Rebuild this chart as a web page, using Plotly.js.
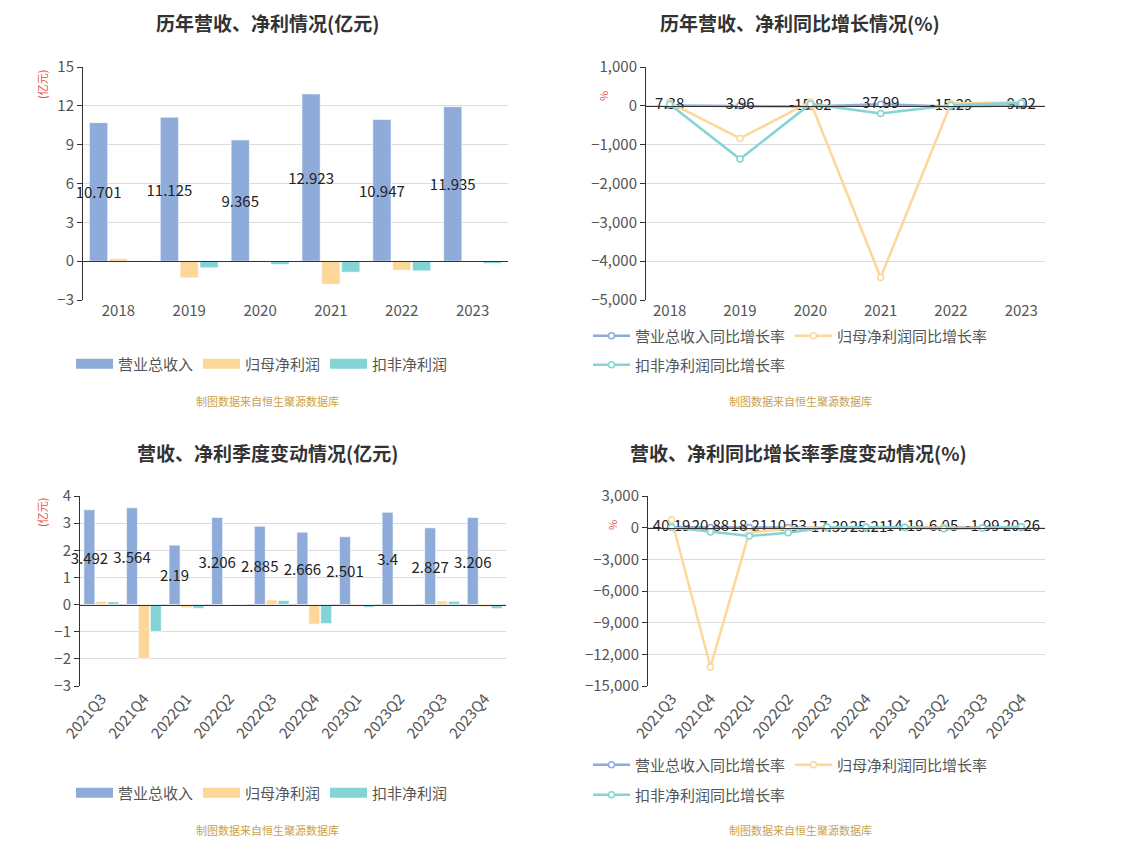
<!DOCTYPE html>
<html><head><meta charset="utf-8">
<script src="https://cdn.plot.ly/plotly-3.0.1.min.js"></script>
<style>html,body{margin:0;padding:0;background:#fff}#chart{width:1121px;height:861px}</style>
</head><body><div id="chart"></div>
<script>
// ---- data ----
const years = ['2018','2019','2020','2021','2022','2023'];
const yearRevenue = [10.701, 11.125, 9.365, 12.923, 10.947, 11.935];
const yearNetProfit = [0.20, -1.29, 0.04, -1.78, -0.69, -0.03];
const yearDeductedProfit = [0.03, -0.51, -0.26, -0.85, -0.75, -0.18];
const yearRevenueGrowth = [7.38, 3.96, -15.82, 37.99, -15.29, 9.02];
const yearNetProfitGrowth = [85, -840, 105, -4420, 61, 95];
const yearDeductedGrowth = [40, -1370, 49, -200, 12, 76];

const quarters = ['2021Q3','2021Q4','2022Q1','2022Q2','2022Q3','2022Q4','2023Q1','2023Q2','2023Q3','2023Q4'];
const qRevenue = [3.492, 3.564, 2.19, 3.206, 2.885, 2.666, 2.501, 3.4, 2.827, 3.206];
const qNetProfit = [0.12, -1.99, -0.12, 0.01, 0.17, -0.72, -0.07, 0.01, 0.13, -0.08];
const qDeductedProfit = [0.10, -0.99, -0.14, -0.01, 0.15, -0.70, -0.10, -0.02, 0.12, -0.15];
const qRevenueGrowth = [40.19, 20.88, 18.21, 10.53, -17.39, -25.21, 14.19, 6.05, -1.99, 20.26];
const qNetProfitGrowth = [750, -13200, -450, -100, 40, 64, 42, 0, -24, 89];
const qDeductedGrowth = [30, -420, -800, -480, 50, 29, 29, -100, -20, 79];

const barNames = ['营业总收入','归母净利润','扣非净利润'];
const lineNames = ['营业总收入同比增长率','归母净利润同比增长率','扣非净利润同比增长率'];
const titles = ['历年营收、净利情况(亿元)','历年营收、净利同比增长情况(%)','营收、净利季度变动情况(亿元)','营收、净利同比增长率季度变动情况(%)'];
const sourceText = '制图数据来自恒生聚源数据库';

// ---- style ----
const W = 1121, H = 861;
const FONT = '"Noto Sans CJK SC", "Open Sans", sans-serif';
const COLORS = ['#8EABDA', '#FDD798', '#84D4D6'];
const px = v => v / W, py = v => 1 - v / H;

const dom = {
  tl: {x: [px(83), px(508)], y: [py(300), py(67)], r: [-3, 15], dt: 3},
  tr: {x: [px(646), px(1045)], y: [py(300), py(67)], r: [-5000, 1000], dt: 1000},
  bl: {x: [px(80), px(506)], y: [py(686), py(496)], r: [-3, 4], dt: 1},
  br: {x: [px(648), px(1045)], y: [py(686), py(496)], r: [-15000, 3000], dt: 3000}
};
const zeroPos = d => d.y[0] + (d.y[1] - d.y[0]) * (0 - d.r[0]) / (d.r[1] - d.r[0]);
const idx = arr => arr.map((_, i) => i);

const traces = [];
function addBars(cats, series, xa, ya, legendId, overlayX) {
  series.forEach((vals, k) => {
    const t = {
      type: 'bar', x: cats, y: vals, xaxis: xa, yaxis: ya,
      marker: {color: COLORS[k], line: {color: 'rgba(255,255,255,0.6)', width: 1}},
      showlegend: false, hoverinfo: 'x+y', cliponaxis: false
    };
    if (k === 0) {
      t.text = vals.map(v => String(v));
      t.textposition = 'inside';
      t.insidetextanchor = 'middle';
      t.textangle = 0;
      t.constraintext = 'none';
      t.insidetextfont = {color: '#222', size: 15, family: FONT};
    }
    traces.push(t);
    // legend swatch
    traces.push({type: 'scatter', mode: 'lines', x: [null], y: [null], xaxis: xa, yaxis: ya,
      name: barNames[k], legend: legendId, line: {color: COLORS[k], width: 10}, hoverinfo: 'skip'});
  });
  // invisible trace to realise the zero-line axis
  traces.push({type: 'scatter', mode: 'markers', x: idx(cats), y: series[0], xaxis: overlayX, yaxis: ya,
    marker: {opacity: 0}, showlegend: false, hoverinfo: 'skip'});
}
function addLines(cats, series, xa, ya, legendIds, overlayX) {
  series.forEach((vals, k) => {
    const t = {
      type: 'scatter', mode: k === 0 ? 'lines+markers+text' : 'lines+markers',
      x: cats, y: vals, xaxis: xa, yaxis: ya, name: lineNames[k], legend: legendIds[k],
      line: {color: COLORS[k], width: 2.5},
      marker: {size: 6, color: '#fff', line: {color: COLORS[k], width: 1.5}},
      cliponaxis: false
    };
    if (k === 0) {
      t.text = vals.map(v => String(v));
      t.textposition = 'middle center';
      t.textfont = {color: '#222', size: 15, family: FONT};
    }
    traces.push(t);
  });
  traces.push({type: 'scatter', mode: 'markers', x: idx(cats), y: series[0], xaxis: overlayX, yaxis: ya,
    marker: {opacity: 0}, showlegend: false, hoverinfo: 'skip'});
}

addBars(years, [yearRevenue, yearNetProfit, yearDeductedProfit], 'x', 'y', 'legend', 'x5');
addLines(years, [yearRevenueGrowth, yearNetProfitGrowth, yearDeductedGrowth], 'x2', 'y2', ['legend2', 'legend2', 'legend5'], 'x6');
addBars(quarters, [qRevenue, qNetProfit, qDeductedProfit], 'x3', 'y3', 'legend3', 'x7');
addLines(quarters, [qRevenueGrowth, qNetProfitGrowth, qDeductedGrowth], 'x4', 'y4', ['legend4', 'legend4', 'legend6'], 'x8');

const tickFont = {size: 15, color: '#555', family: FONT};
function xAxis(d, ya, angle) {
  return {domain: d.x, anchor: ya, type: 'category', showline: false, ticks: '', showgrid: false,
    zeroline: false, tickfont: tickFont, tickangle: angle, fixedrange: true, automargin: false};
}
function yAxis(d, xa, fmt) {
  return {domain: d.y, anchor: xa, range: d.r, dtick: d.dt, tick0: 0, showline: true, linecolor: '#333',
    linewidth: 1, ticks: 'outside', ticklen: 5, tickcolor: '#333', gridcolor: '#dcdcdc', zeroline: false,
    tickfont: tickFont, tickformat: fmt, fixedrange: true, automargin: false};
}
function zeroAxis(d, base, n) {
  return {overlaying: base, anchor: 'free', position: zeroPos(d), range: [-0.5, n - 0.5],
    tickvals: idx(Array(n)).map(i => i + 0.5), ticks: 'outside', ticklen: 5, tickcolor: '#333',
    showticklabels: false, showline: true, linecolor: '#333', linewidth: 1, showgrid: false,
    zeroline: false, fixedrange: true};
}

const annotations = [];
const titlePos = [[267, 22], [800, 22], [267, 452], [798, 452]];
titles.forEach((t, i) => annotations.push({text: '<b>' + t + '</b>', xref: 'paper', yref: 'paper',
  x: px(titlePos[i][0]), y: py(titlePos[i][1]), xanchor: 'center', yanchor: 'middle', showarrow: false,
  font: {size: 19, color: '#333', family: FONT}}));
[[267, 401], [800, 401], [267, 830], [800, 830]].forEach(p => annotations.push({text: sourceText,
  xref: 'paper', yref: 'paper', x: px(p[0]), y: py(p[1]), xanchor: 'center', yanchor: 'middle',
  showarrow: false, font: {size: 11, color: '#C9A14B', family: FONT}}));
[['(亿元)', 42, 85], ['%', 603, 96], ['(亿元)', 42, 513], ['%', 612, 525]].forEach(a => annotations.push({
  text: a[0], xref: 'paper', yref: 'paper', x: px(a[1]), y: py(a[2]), xanchor: 'center', yanchor: 'middle',
  textangle: -90, showarrow: false, font: {size: 11, color: '#E8504F', family: FONT}}));

const legendBase = {orientation: 'h', font: {size: 15, color: '#555', family: FONT}, bgcolor: 'rgba(0,0,0,0)',
  itemwidth: 37, itemclick: false, itemdoubleclick: false, traceorder: 'normal'};
const leg = (x, xa, y) => Object.assign({}, legendBase, {x: px(x), xanchor: xa, y: py(y), yanchor: 'middle'});

const layout = {
  width: W, height: H, margin: {l: 0, r: 0, t: 0, b: 0, autoexpand: false}, paper_bgcolor: '#fff', plot_bgcolor: '#fff',
  font: {family: FONT}, barmode: 'group', bargap: 0.16, bargroupgap: 0.08, hovermode: 'closest',
  xaxis: xAxis(dom.tl, 'y', 0), yaxis: yAxis(dom.tl, 'x', ''),
  xaxis2: xAxis(dom.tr, 'y2', 0), yaxis2: yAxis(dom.tr, 'x2', ',d'),
  xaxis3: xAxis(dom.bl, 'y3', -50), yaxis3: yAxis(dom.bl, 'x3', ''),
  xaxis4: xAxis(dom.br, 'y4', -50), yaxis4: yAxis(dom.br, 'x4', ',d'),
  xaxis5: zeroAxis(dom.tl, 'x', years.length),
  xaxis6: zeroAxis(dom.tr, 'x2', years.length),
  xaxis7: zeroAxis(dom.bl, 'x3', quarters.length),
  xaxis8: zeroAxis(dom.br, 'x4', quarters.length),
  legend: leg(262, 'center', 364),
  legend2: leg(588, 'left', 336),
  legend5: leg(588, 'left', 365),
  legend3: leg(262, 'center', 793),
  legend4: leg(588, 'left', 765),
  legend6: leg(588, 'left', 795),
  annotations: annotations
};

Plotly.newPlot('chart', traces, layout, {displayModeBar: false, staticPlot: false});
</script></body></html>
